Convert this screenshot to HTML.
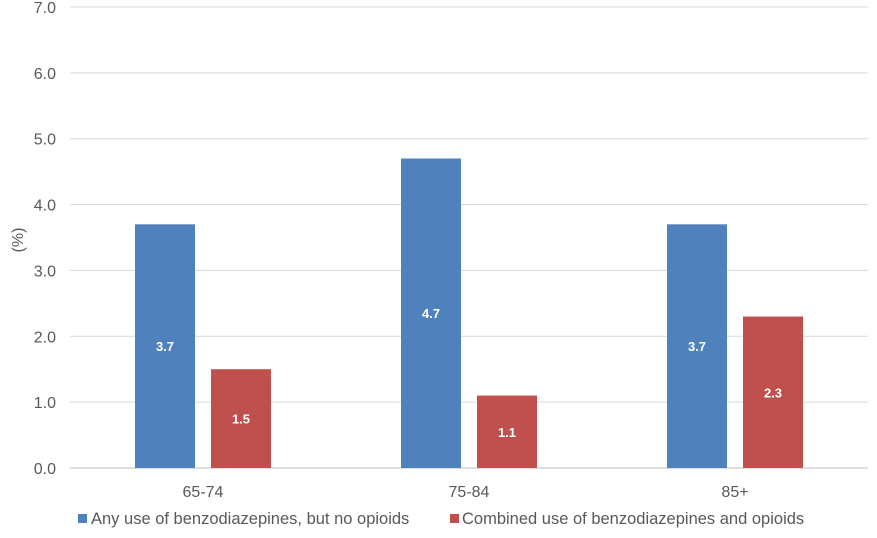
<!DOCTYPE html>
<html><head><meta charset="utf-8"><style>
body{margin:0;background:#fff;width:877px;height:533px;overflow:hidden;font-family:"Liberation Sans",sans-serif}
</style></head><body>
<svg id="chart" width="877" height="533" xmlns="http://www.w3.org/2000/svg">
<g id="grid"></g>
<g id="yaxis"></g>
<g id="bars"></g>
<g id="xaxis"></g>
<text x="0" y="0" transform="translate(23,240) rotate(-90)" text-anchor="middle" font-size="16" fill="#595959">(%)</text>
<g>
<g><rect x="78" y="514" width="9" height="9" fill="#4F81BD"/><text x="91" y="524" font-size="16.5" fill="#595959">Any use of benzodiazepines, but no opioids</text></g>
<g><rect x="450" y="514" width="9" height="9" fill="#C0504D"/><text x="462" y="524" font-size="16.5" fill="#595959">Combined use of benzodiazepines and opioids</text></g>
</g>
</svg>
<script>
const categories=["65-74","75-84","85+"];
const benzoOnly=[3.7,4.7,3.7];
const combined=[1.5,1.1,2.3];
const yTicks=[0,1,2,3,4,5,6,7];
const NS="http://www.w3.org/2000/svg";
const x0=70,x1=868,yb=468,yt=7,ymax=7;
const y=v=>yb-(yb-yt)*v/ymax;
const bw=(x1-x0)/categories.length;
const xc=i=>x0+bw*(i+0.5);
function mk(t,a,p){const e=document.createElementNS(NS,t);for(const k in a)e.setAttribute(k,a[k]);p.appendChild(e);return e;}
const g=document.getElementById('grid'),ya=document.getElementById('yaxis'),b=document.getElementById('bars'),xa=document.getElementById('xaxis');
yTicks.forEach(t=>{
 const l=mk('line',{x1:x0,x2:x1,y1:y(t),y2:y(t),stroke:t===0?'#BFBFBF':'#D9D9D9','stroke-width':1},g);
 
 
 const tx=mk('text',{x:56,y:y(t)+6,'text-anchor':'end','font-size':16,fill:'#595959'},ya);
 tx.textContent=t.toFixed(1);
 
 
});
categories.forEach((c,i)=>{
 [[benzoOnly[i],'#4F81BD',-38,'benzo'],[combined[i],'#C0504D',38,'combined']].forEach(([v,col,off,nm])=>{
  const cx=xc(i)+off;
  const r=mk('rect',{x:cx-30,y:y(v),width:60,height:yb-y(v),fill:col},b);
  
  
  const t=mk('text',{x:cx,y:(y(v)+yb)/2+5,'text-anchor':'middle','font-size':13,'font-weight':'bold',fill:'#fff'},b);
  t.textContent=v.toFixed(1);
  
  
 });
 const xt=mk('text',{x:xc(i),y:497,'text-anchor':'middle','font-size':16,fill:'#595959'},xa);
 xt.textContent=c;
 
 
});
</script>
</body></html>
